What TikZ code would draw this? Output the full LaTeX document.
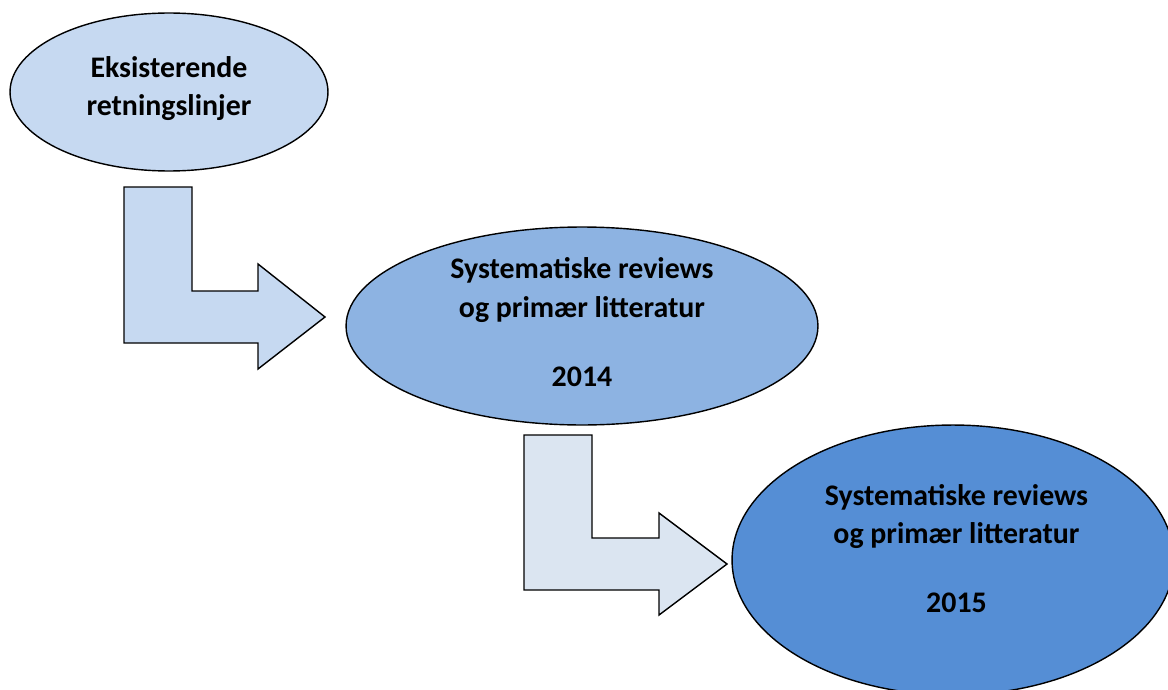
\documentclass[tikz,border=0pt]{standalone}
\usepackage{fontspec}
\setmainfont{Carlito}
\usetikzlibrary{shapes.geometric}

\definecolor{lys}{HTML}{C6D9F1}
\definecolor{mid}{HTML}{8DB3E2}
\definecolor{mork}{HTML}{558ED5}
\definecolor{bleik}{HTML}{DBE5F1}

\begin{document}
\begin{tikzpicture}[x=0.02cm,y=-0.02cm]
  \tikzstyle{oval}=[ellipse,draw,line width=0.8pt,inner sep=0pt]
  \tikzstyle{txt}=[align=center,inner sep=0pt,font=\fontsize{17}{22}\selectfont\bfseries]
  \tikzstyle{pil}=[draw,line width=0.8pt,line join=miter]
  \useasboundingbox (0,0) rectangle (1168,689) ;
  \node [oval,fill=lys,minimum width=6.36cm,minimum height=3.16cm] (guide) at (169,92) {} ;
  \node [oval,fill=mid,minimum width=9.44cm,minimum height=3.96cm] (rev14) at (582,326) {} ;
  \node [oval,fill=mork,minimum width=8.84cm,minimum height=5.4cm] (rev15) at (953,560) {} ;
  \node [txt] (guidetxt) at ([yshift=0.07cm]guide) {Eksisterende\\retningslinjer} ;
  \node [txt] (rev14txt) at ([yshift=0.08cm]rev14)
    {Systematiske reviews\\og primær litteratur\\[0.6cm]2014} ;
  \node [txt] (rev15txt) at ([xshift=0.07cm,yshift=0.23cm]rev15)
    {Systematiske reviews\\og primær litteratur\\[0.6cm]2015} ;
  \path [pil,fill=lys] (124,187) -- (192,187) -- (192,291) -- (258,291) -- (258,264)
    -- (325,317) -- (258,369) -- (258,343) -- (124,343) -- cycle ;
  \path [pil,fill=bleik] (524,435) -- (592,435) -- (592,538) -- (659,538) -- (659,513)
    -- (727,564) -- (659,615) -- (659,590) -- (524,590) -- cycle ;
\end{tikzpicture}
\end{document}
